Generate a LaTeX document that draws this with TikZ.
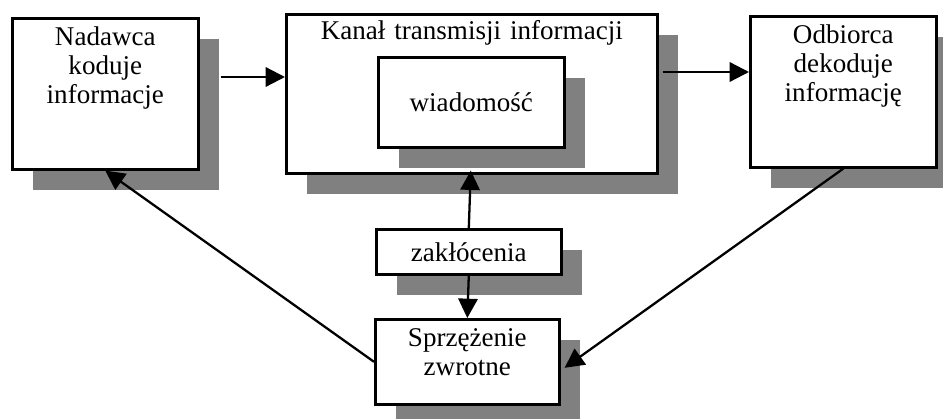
\documentclass[tikz,border=0pt]{standalone}
\usepackage{fontspec}
\setmainfont{Liberation Serif}
\usetikzlibrary{arrows.meta,shadows}
\definecolor{cien}{RGB}{128,128,128}
\tikzset{blok/.style={draw,line width=1.5pt,fill=white,inner sep=0pt,align=center,anchor=north west,
  font=\fontsize{15.4}{16.5}\selectfont,
  general shadow={fill=cien,shadow xshift=0.42cm,shadow yshift=-0.42cm}},
  strz/.style={line width=1.3pt,-{Triangle[length=11pt,width=11pt]}}}

\begin{document}
\begin{tikzpicture}[x=0.02cm,y=-0.02cm]
\clip (0,0) rectangle (943,419);
\node[blok,text width=3.72cm,text height=0.54cm,text depth=2.48cm] (nad) at (11,17) {Nadawca\\koduje\\informacje};
\node[blok,text width=7.42cm,text height=0.5cm,text depth=2.68cm] (kan) at (285,13) {Kanał transmisji informacji};
\node[blok,minimum width=3.72cm,minimum height=1.8cm] (wia) at (377,56) {wiadomość};
\node[blok,text width=3.72cm,text height=0.54cm,text depth=2.48cm] (odb) at (749,15) {Odbiorca\\dekoduje\\informację};
\node[blok,minimum width=3.7cm,minimum height=0.9cm] (zak) at (375,228) {zakłócenia};
\node[blok,text width=3.68cm,text height=0.54cm,text depth=1.16cm] (spr) at (374,318) {Sprzężenie\\zwrotne};

\draw[strz] ([shift={(21,60)}]nad.north east) -- ([shift={(0,64)}]kan.north west);
\draw[strz] ([shift={(4,59)}]kan.north east) -- ([shift={(0,57)}]odb.north west);
\draw[strz] (zak.north) -- ([shift={(-1,-4)}]kan.south);
\draw[strz] (zak.south) -- (spr.north);
\draw[strz] (spr.west) -- (nad.south);
\draw[strz] (odb.south) -- ([shift={(4,6)}]spr.east);
\end{tikzpicture}
\end{document}
